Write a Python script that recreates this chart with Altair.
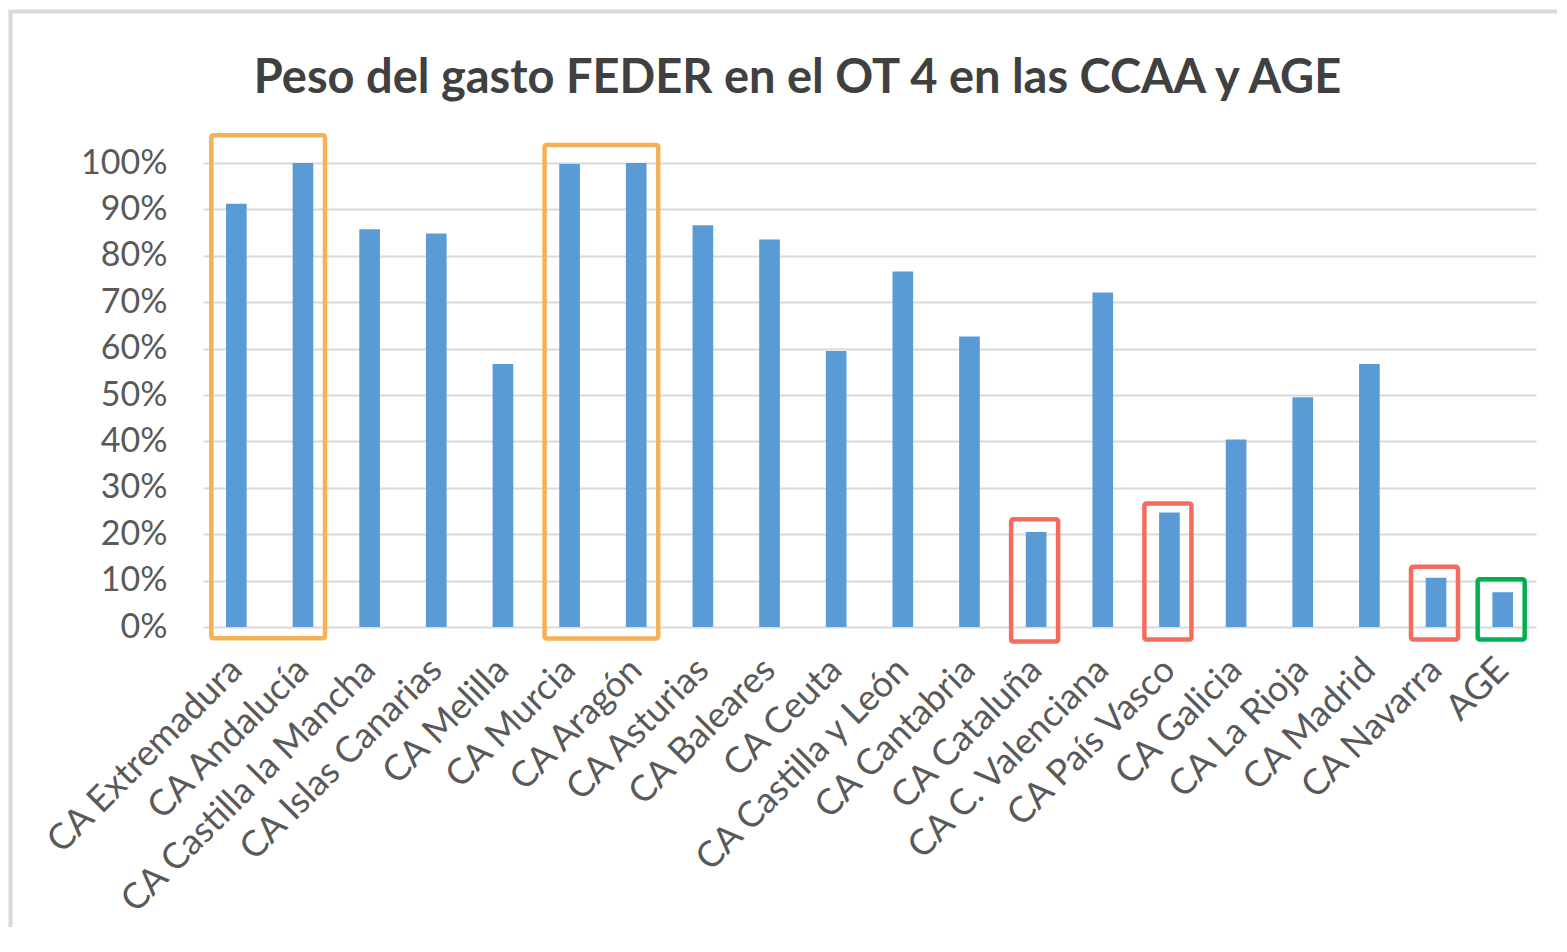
import altair as alt
import pandas as pd

# ---- data ----
regions = ["CA Extremadura", "CA Andalucía", "CA Castilla la Mancha", "CA Islas Canarias",
           "CA Melilla", "CA Murcia", "CA Aragón", "CA Asturias", "CA Baleares", "CA Ceuta",
           "CA Castilla y León", "CA Cantabria", "CA Cataluña", "CA C. Valenciana",
           "CA País Vasco", "CA Galicia", "CA La Rioja", "CA Madrid", "CA Navarra", "AGE"]
values = [0.912, 1.0, 0.857, 0.848, 0.567, 0.998, 1.0, 0.866, 0.835, 0.595,
          0.766, 0.626, 0.205, 0.721, 0.247, 0.404, 0.495, 0.567, 0.106, 0.075]
y_ticks = [0, 0.1, 0.2, 0.3, 0.4, 0.5, 0.6, 0.7, 0.8, 0.9, 1.0]

# highlight boxes (annotation extents in data units)
box_start = ["CA Extremadura", "CA Murcia", "CA Cataluña", "CA País Vasco", "CA Navarra", "AGE"]
box_end = ["CA Andalucía", "CA Aragón", "CA Cataluña", "CA País Vasco", "CA Navarra", "AGE"]
box_top = [1.06, 1.039, 0.232, 0.266, 0.13, 0.103]
box_bottom = [-0.024, -0.025, -0.031, -0.027, -0.027, -0.027]
box_color = ["#F4B155", "#F4B155", "#F56B5E", "#F56B5E", "#F56B5E", "#00B050"]

title_text = "Peso del gasto FEDER en el OT 4 en las CCAA y AGE"

bars_df = pd.DataFrame({"region": regions, "value": values})
boxes_df = pd.DataFrame({"start": box_start, "end": box_end, "top": box_top,
                         "bottom": box_bottom, "color": box_color})

FONT = "Lato"
xscale = alt.Scale(domain=regions, paddingInner=0.69, paddingOuter=0.345)
yscale = alt.Scale(domain=[0, 1], nice=False, clamp=False)

bars = alt.Chart(bars_df).mark_bar(color="#5B9BD5").encode(
    x=alt.X("region:N", scale=xscale, sort=regions,
            axis=alt.Axis(title=None, labelAngle=-45, labelAlign="right",
                          labelBaseline="middle", labelPadding=37, labelLimit=600,
                          labelFont=FONT, labelFontSize=36, labelColor="#595959",
                          ticks=False, tickSize=0, domain=False, grid=False)),
    y=alt.Y("value:Q", scale=yscale,
            axis=alt.Axis(title=None, values=y_ticks, format=".0%",
                          labelFont=FONT, labelFontSize=34, labelColor="#595959",
                          labelPadding=36, ticks=False, tickSize=0, domain=False,
                          grid=True, gridColor="#D9D9D9", gridWidth=1.8)),
)

boxes = alt.Chart(boxes_df).mark_rect(
    filled=False, strokeWidth=4.5, cornerRadius=2, xOffset=-25, x2Offset=22
).encode(
    x=alt.X("start:N", scale=xscale, bandPosition=0.5),
    x2=alt.X2("end", bandPosition=0.5),
    y=alt.Y("top:Q", scale=yscale),
    y2=alt.Y2("bottom"),
    stroke=alt.Stroke("color:N", scale=None),
)

one = alt.Data(values=[{}])
frame_left = alt.Chart(one).mark_rule(color="#D9D9D9", strokeWidth=4).encode(
    x=alt.value(-192.5), y=alt.value(-151.5), y2=alt.value(800))
frame_top = alt.Chart(one).mark_rule(color="#D9D9D9", strokeWidth=4).encode(
    x=alt.value(-194.5), x2=alt.value(1380), y=alt.value(-151.5))

title = alt.Chart(one).mark_text(
    font=FONT, fontSize=47, fontWeight="bold", color="#404040",
    align="center", baseline="alphabetic"
).encode(x=alt.value(594.5), y=alt.value(-69.7), text=alt.value(title_text))

chart = alt.layer(frame_left, frame_top, bars, boxes, title).properties(
    width=1333, height=464,
    background="white",
    autosize=alt.AutoSizeParams(type="none"),
    padding={"left": 195, "top": 155, "right": 21, "bottom": 300},
).configure_view(strokeOpacity=0, strokeWidth=0)

chart.save("out.html", embed_options={"renderer": "svg", "actions": False})
